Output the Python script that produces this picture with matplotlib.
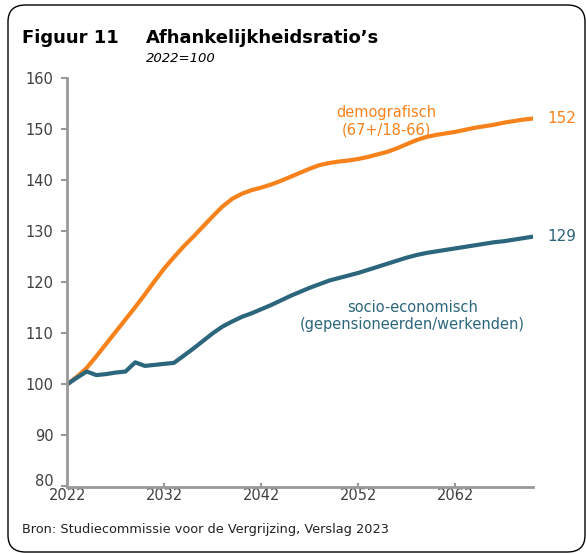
import numpy as np
import matplotlib
matplotlib.use('Agg')
import matplotlib.pyplot as plt
import matplotlib.transforms as mtransforms
from matplotlib.patches import FancyBboxPatch

# data (index 2022 = 100)
years = list(range(2022, 2071))
demografisch = [100.0, 101.5, 103.2, 105.5, 107.9, 110.3, 112.7, 115.1, 117.6, 120.2,
                122.7, 124.9, 127.0, 128.9, 130.9, 132.9, 134.8, 136.3, 137.3, 138.0,
                138.5, 139.1, 139.8, 140.6, 141.4, 142.2, 142.9, 143.3, 143.6, 143.8,
                144.1, 144.5, 145.0, 145.5, 146.2, 147.0, 147.8, 148.4, 148.8, 149.1,
                149.4, 149.8, 150.2, 150.5, 150.8, 151.2, 151.5, 151.8, 152.0]
socio_economisch = [100.0, 101.3, 102.5, 101.8, 102.0, 102.3, 102.5, 104.3, 103.6, 103.8,
                    104.0, 104.2, 105.6, 107.0, 108.5, 110.0, 111.3, 112.3, 113.2, 113.9,
                    114.7, 115.5, 116.4, 117.3, 118.1, 118.9, 119.6, 120.3, 120.8, 121.3,
                    121.8, 122.4, 123.0, 123.6, 124.2, 124.8, 125.3, 125.7, 126.0, 126.3,
                    126.6, 126.9, 127.2, 127.5, 127.8, 128.0, 128.3, 128.6, 128.9]
xticks = [2022, 2032, 2042, 2052, 2062]
yticks = [80, 90, 100, 110, 120, 130, 140, 150, 160]

ORANGE = '#f7821b'
TEAL = '#2b667c'
GREY = '#999999'
TXT = '#404040'

plt.rcParams['font.family'] = ['DejaVu Sans']

fig = plt.figure(figsize=(5.86, 5.54), dpi=100)

# rounded frame around the figure
frame = FancyBboxPatch((8 / 586, 2 / 554), 577 / 586, 547 / 554,
                       boxstyle='round,pad=0,rounding_size=0.03',
                       transform=fig.transFigure, fill=False,
                       edgecolor='black', linewidth=1.0)
fig.patches.append(frame)

ax = fig.add_axes([67.3 / 586, 67.5 / 554, (533 - 67.3) / 586, (486.5 - 77.7) / 554])
ax.plot(years, demografisch, color=ORANGE, linewidth=3, solid_capstyle='round')
ax.plot(years, socio_economisch, color=TEAL, linewidth=3, solid_capstyle='round')

ax.set_xlim(2022, 2070)
ax.set_ylim(80, 160)
ax.set_xticks(xticks)
ax.set_yticks(yticks)
ax.set_xticklabels([str(x) for x in xticks])

for side in ['top', 'right']:
    ax.spines[side].set_visible(False)
for side in ['left', 'bottom']:
    ax.spines[side].set_color(GREY)
    ax.spines[side].set_linewidth(2)
ax.tick_params(axis='y', direction='out', length=4, width=1.5, color=GREY,
               labelsize=10.5, labelcolor=TXT, pad=6)
ax.tick_params(axis='x', direction='in', length=3, width=1.5, color=GREY,
               labelsize=10.5, labelcolor=TXT, pad=1)

# lift the "80" label a little so it clears "2022", as in the reference
lab80 = ax.get_yticklabels()[0]
lab80.set_transform(lab80.get_transform() +
                    mtransforms.ScaledTranslation(0, 5 / 72, fig.dpi_scale_trans))

# end values
ax.text(2071.5, demografisch[-1], '152', color=ORANGE, fontsize=11, va='center', ha='left')
ax.text(2071.5, socio_economisch[-1], '129', color=TEAL, fontsize=11, va='center', ha='left')

# series labels
ax.text(2054.9, 151.5, 'demografisch\n(67+/18-66)', color=ORANGE, fontsize=10.5,
        ha='center', va='center', linespacing=1.15)
ax.text(2057.6, 113.4, 'socio-economisch\n(gepensioneerden/werkenden)', color=TEAL,
        fontsize=10.5, ha='center', va='center', linespacing=1.15)

# titles and source
fig.text(22 / 586, 1 - 38 / 554, 'Figuur 11', fontsize=13, fontweight='bold', va='center')
fig.text(146 / 586, 1 - 38 / 554, 'Afhankelijkheidsratio\u2019s', fontsize=13,
         fontweight='bold', va='center')
fig.text(146 / 586, 1 - 58 / 554, '2022=100', fontsize=9.5, style='italic', va='center')
fig.text(22 / 586, 1 - 529 / 554, 'Bron: Studiecommissie voor de Vergrijzing, Verslag 2023',
         fontsize=9.3, va='center', color='#222222')

fig.savefig('out.png', dpi=100)
